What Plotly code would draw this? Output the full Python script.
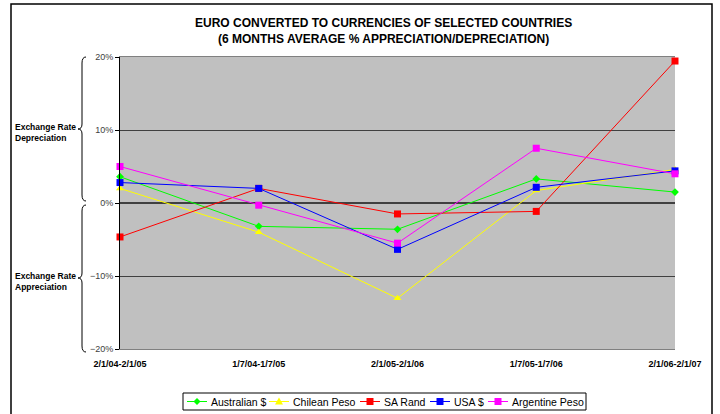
import plotly.graph_objects as go

periods = ["2/1/04-2/1/05", "1/7/04-1/7/05", "2/1/05-2/1/06", "1/7/05-1/7/06", "2/1/06-2/1/07"]

australian = [3.6, -3.2, -3.6, 3.3, 1.5]
chilean = [2.0, -4.0, -13.05, 1.7, 4.6]
sa_rand = [-4.65, 2.0, -1.5, -1.15, 19.45]
usa = [2.8, 2.0, -6.35, 2.15, 4.4]
argentine = [5.0, -0.3, -5.5, 7.5, 4.0]

FONT = "Arial, Liberation Sans, sans-serif"

# plot area in pixels, used to place the decorations outside it
L, R, T, B = 120, 675, 57, 349


def px(x):
  return (x - L) / (R - L)


def py(y):
  return (B - y) / (B - T)


def brace(top, tip, bottom, xr=86, xm=82, xt=78):
  return (f"M {px(xr)},{py(top)} Q {px(xm)},{py(top)} {px(xm)},{py(top+6)} "
          f"L {px(xm)},{py(tip-5)} Q {px(xm)},{py(tip)} {px(xt)},{py(tip)} "
          f"Q {px(xm)},{py(tip)} {px(xm)},{py(tip+5)} "
          f"L {px(xm)},{py(bottom-6)} Q {px(xm)},{py(bottom)} {px(xr)},{py(bottom)}")


def legend_marker(sym, cx, cy, color):
  # small marker glyph for the hand-built legend (Excel style, compact)
  if sym == "square":
    path = f"M {px(cx-3.5)},{py(cy-3.5)} L {px(cx+3.5)},{py(cy-3.5)} L {px(cx+3.5)},{py(cy+3.5)} L {px(cx-3.5)},{py(cy+3.5)} Z"
  elif sym == "diamond":
    path = f"M {px(cx)},{py(cy-3.5)} L {px(cx+3.5)},{py(cy)} L {px(cx)},{py(cy+3.5)} L {px(cx-3.5)},{py(cy)} Z"
  else:
    path = f"M {px(cx)},{py(cy-4)} L {px(cx+4)},{py(cy+3)} L {px(cx-4)},{py(cy+3)} Z"
  return dict(type="path", xref="paper", yref="paper", path=path,
              fillcolor=color, line=dict(color=color, width=0))


series = [
  ("Australian $", australian, "#00FF00", "diamond", 6),
  ("Chilean Peso", chilean, "#FFFF00", "triangle-up", 7),
  ("SA Rand", sa_rand, "#FF0000", "square", 7),
  ("USA $", usa, "#0000FF", "square", 7),
  ("Argentine Peso", argentine, "#FF00FF", "square", 7),
]
legend_x = [187, 269, 360, 430, 488]

fig = go.Figure()
for name, vals, color, sym, size in series:
  fig.add_trace(go.Scatter(
    x=list(range(len(periods))), y=vals, name=name, mode="lines+markers",
    line=dict(color=color, width=1),
    marker=dict(symbol=sym, size=size, color=color),
    cliponaxis=False, showlegend=False,
  ))

shapes = [
  dict(type="rect", xref="paper", yref="paper", x0=px(11), x1=px(712), y0=py(4), y1=py(425),
       line=dict(color="black", width=1.5), layer="below"),
  dict(type="path", xref="paper", yref="paper", path=brace(57, 129, 201),
       line=dict(color="black", width=1)),
  dict(type="path", xref="paper", yref="paper", path=brace(205, 278, 352),
       line=dict(color="black", width=1)),
  dict(type="rect", xref="paper", yref="paper", x0=px(183), x1=px(586), y0=py(393), y1=py(410),
       fillcolor="white", line=dict(color="black", width=1)),
]

for (name, vals, color, sym, size), lx in zip(series, legend_x):
  shapes.append(dict(type="line", xref="paper", yref="paper", x0=px(lx), x1=px(lx + 20),
                     y0=py(401.5), y1=py(401.5), line=dict(color=color, width=1)))
  shapes.append(legend_marker(sym, lx + 10, 401.5, color))
  fig.add_annotation(text=name, xref="paper", yref="paper", x=px(lx + 22), y=py(401.5),
                     xanchor="left", yanchor="middle", showarrow=False,
                     font=dict(size=10.5, family=FONT))

fig.update_layout(
  width=720, height=414,
  margin=dict(l=L, r=720 - R, t=T, b=414 - B, autoexpand=False),
  paper_bgcolor="white", plot_bgcolor="#C0C0C0",
  font=dict(family=FONT, color="black"),
  showlegend=False,
  xaxis=dict(
    range=[0, 4], tickvals=list(range(len(periods))), ticktext=periods,
    showgrid=False, zeroline=False, showline=True, linecolor="#808080", mirror=True,
    ticks="", ticklabelstandoff=6, tickfont=dict(size=9, family=FONT, weight="bold"),
  ),
  yaxis=dict(
    range=[-20, 20], dtick=10, ticksuffix="%",
    showgrid=True, gridcolor="#404040", gridwidth=1,
    zeroline=True, zerolinecolor="#404040", zerolinewidth=2,
    showline=True, linecolor="black", linewidth=1,
    ticks="outside", ticklen=4, tickcolor="black",
    tickfont=dict(size=9, family=FONT, color="#404040"),
  ),
  shapes=shapes,
)

fig.add_annotation(
  text="EURO CONVERTED TO CURRENCIES OF SELECTED COUNTRIES<br>(6 MONTHS AVERAGE % APPRECIATION/DEPRECIATION)",
  xref="paper", yref="paper", x=px(383), y=py(31), xanchor="center", yanchor="middle",
  showarrow=False, font=dict(size=12, family=FONT, weight="bold"),
)

for text, y in [("Exchange Rate<br>Depreciation", 132), ("Exchange Rate<br>Appreciation", 281)]:
  fig.add_annotation(
    text=text, xref="paper", yref="paper", x=px(13), y=py(y), xanchor="left", yanchor="middle",
    align="left", showarrow=False, font=dict(size=8.5, family=FONT, weight="bold"),
  )

# page body has a default 8px margin; drop it so the figure sits at the window origin
fig.write_html("out.html", config={"displayModeBar": False},
               post_script="document.body.style.margin='0';")
